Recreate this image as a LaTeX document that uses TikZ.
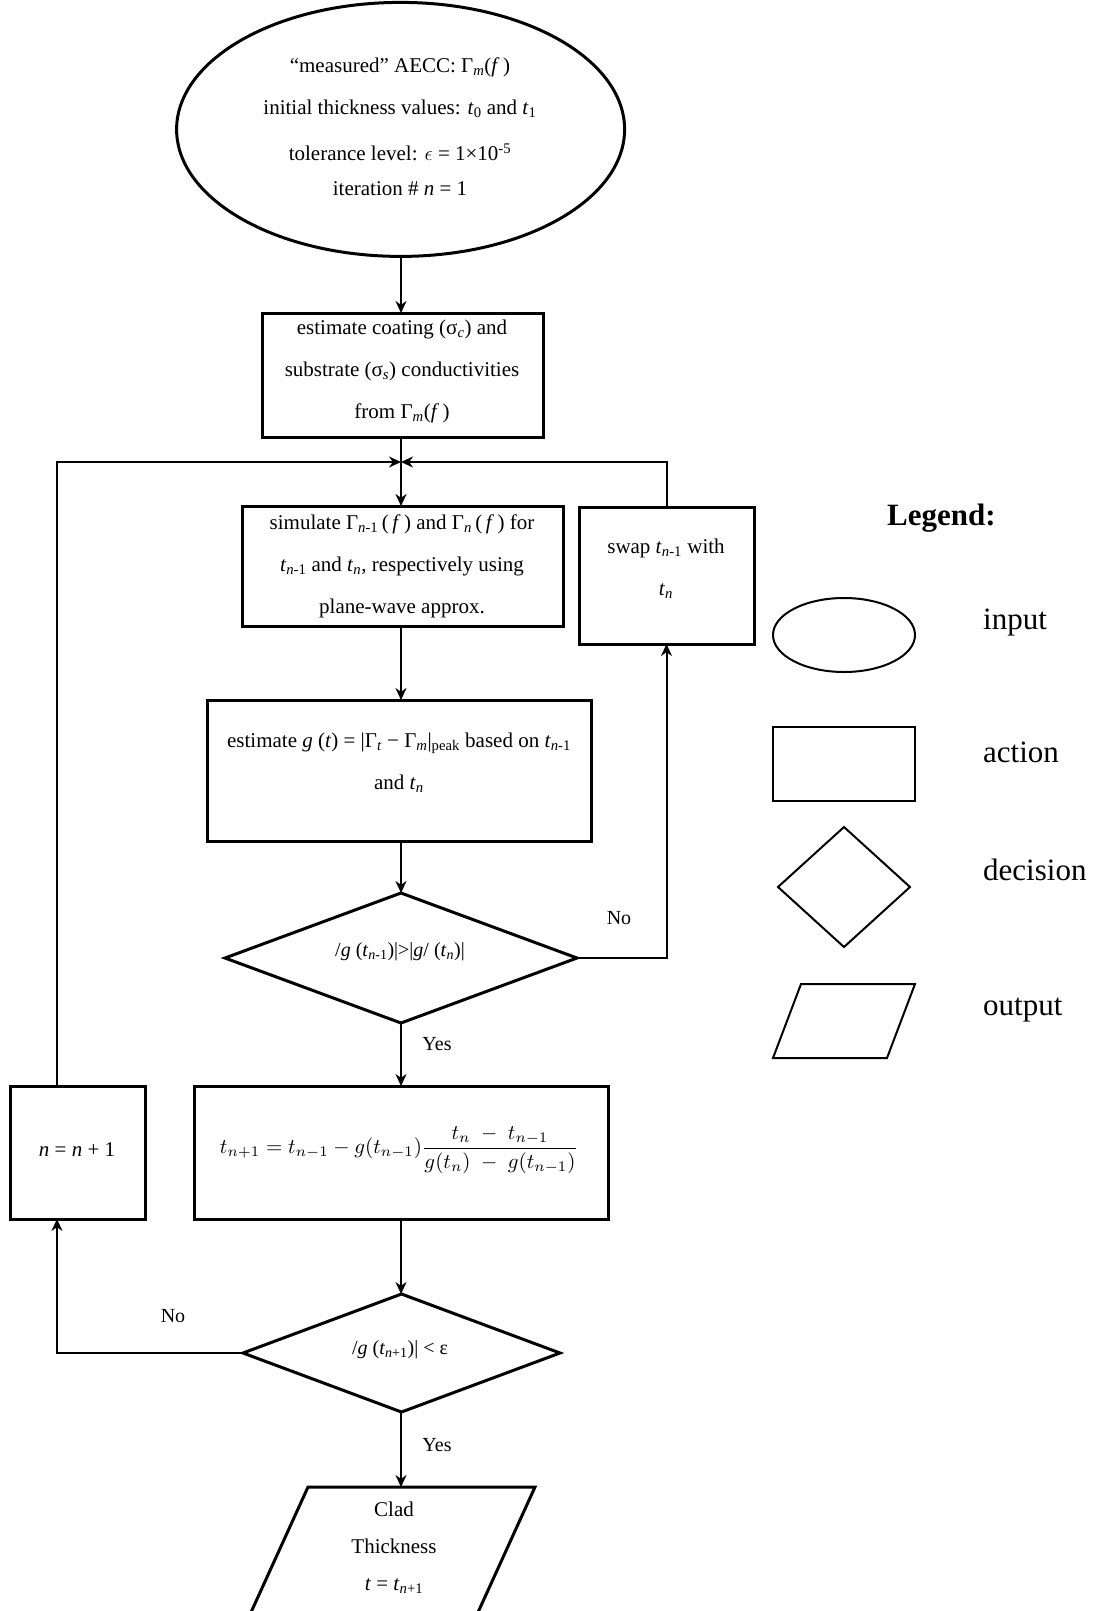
\documentclass[tikz,border=0pt]{standalone}
\usepackage{fontspec}
\setmainfont{Liberation Serif}
\usepackage{graphicx}
\usetikzlibrary{shapes.geometric,arrows.meta}
\newcommand\ti[1]{\textit{#1}}
\newcommand\sbs[1]{\textsubscript{#1}}
\newcommand\sps[1]{\textsuperscript{#1}}
\begin{document}
\begin{tikzpicture}[x=1pt,y=-1pt,
  shp/.style={draw,line width=3pt,inner sep=0pt,outer sep=0pt},
  lshp/.style={draw,line width=2pt,inner sep=0pt,outer sep=0pt},
  txt/.style={align=center,font=\fontsize{21}{42}\selectfont,inner sep=0pt},
  dtxt/.style={align=center,font=\fontsize{20}{24}\selectfont,inner sep=0pt},
  lbl/.style={font=\fontsize{20}{24}\selectfont,inner sep=0pt},
  leg/.style={font=\fontsize{31}{36}\selectfont,anchor=base west,inner sep=0pt},
  conn/.style={line width=2pt,-{Stealth[length=12pt,width=11pt]}},
  plainline/.style={line width=2pt}]
\useasboundingbox (0,0) rectangle (1097,1611);
\clip (0,0) rectangle (1097,1611);

% main shapes
\node[shp,ellipse,minimum width=448pt,minimum height=254pt] (inp) at (400.6,129.4) {};
\node[txt] (tinp) at (400,127) {“measured” AECC: Γ\sbs{\ti{m}}(\ti{f}\,)\\
initial thickness values: \ti{t}\sbs{0} and \ti{t}\sbs{1}\\[4pt]
tolerance level: $\epsilon$ = 1×10\sps{-5}\\[-7pt]
iteration \# \ti{n} = 1};

\node[shp,rectangle,minimum width=281pt,minimum height=124pt] (b1) at (402.5,375) {};
\node[txt] (tb1) at (402,371) {estimate coating (σ\sbs{\ti{c}}) and\\
substrate (σ\sbs{\ti{s}}) conductivities\\
from Γ\sbs{\ti{m}}(\ti{f}\,)};

\node[shp,rectangle,minimum width=321pt,minimum height=120pt] (b2) at (402.5,566) {};
\node[txt] (tb2) at (402,566) {simulate Γ\sbs{\ti{n}-1}\,(\,\ti{f}\,) and Γ\sbs{\ti{n}}\,(\,\ti{f}\,) for\\
\ti{t}\sbs{\ti{n}-1} and \ti{t}\sbs{\ti{n}}, respectively using\\
plane-wave approx.};

\node[shp,rectangle,minimum width=175pt,minimum height=137pt] (sw) at (666.5,575.5) {};
\node[txt] (tsw) at (666,569) {swap \ti{t}\sbs{\ti{n}-1} with\\ \ti{t}\sbs{\ti{n}}};

\node[shp,rectangle,minimum width=384pt,minimum height=141pt] (b3) at (399,770.5) {};
\node[txt] (tb3) at (399,763) {estimate \ti{g} (\ti{t}) = |Γ\sbs{\ti{t}} − Γ\sbs{\ti{m}}|\sbs{peak} based on \ti{t}\sbs{\ti{n}-1}\\
and \ti{t}\sbs{\ti{n}}};

\node[shp,diamond,minimum width=352pt,minimum height=130pt] (d1) at (401,958) {};
\node[dtxt] (td1) at (400,952) {/\ti{g} (\ti{t}\sbs{\ti{n}-1})|>|\ti{g}/ (\ti{t}\sbs{\ti{n}})|};

\node[shp,rectangle,minimum width=414pt,minimum height=133pt] (b4) at (401,1152.5) {};
\node[inner sep=0pt] (tb4) at (399,1150) {\resizebox{358pt}{!}{$\displaystyle t_{n+1}=t_{n-1}-g(t_{n-1})\frac{t_n\;-\;t_{n-1}}{g(t_n)\;-\;g(t_{n-1})}$}};

\node[shp,rectangle,minimum width=135pt,minimum height=133pt] (nb) at (77.5,1152.5) {};
\node[txt] (tnb) at (77,1150) {\ti{n} = \ti{n} + 1};

\node[shp,diamond,minimum width=317pt,minimum height=118pt] (d2) at (401.5,1353) {};
\node[dtxt] (td2) at (400,1350) {/\ti{g} (\ti{t}\sbs{\ti{n}+1})| < ε};

\draw[line width=3pt] (308,1487) -- (535,1487) -- (474.5,1620) -- (247.5,1620) -- cycle;
\coordinate (outtop) at (421.5,1487);
\node[txt,font=\fontsize{21}{37}\selectfont] (tout) at (394,1548) {Clad\\ Thickness\\ \ti{t} = \ti{t}\sbs{\ti{n}+1}};

% junction coordinates
\coordinate (J) at (401,462);
\coordinate (Lx) at (57,462);

% connectors
\draw[conn] (inp.south -| J) -- (b1.north -| J);
\draw[conn] (b1.south -| J) -- (b2.north -| J);
\draw[conn] (Lx |- nb.north) -- (Lx) -- (J);
\draw[conn] (sw.north) -- (sw.north |- J) -- (J);
\draw[conn] (b2.south -| J) -- (b3.north -| J);
\draw[conn] (b3.south -| J) -- (d1.north -| J);
\draw[conn] (d1.east) -- (d1.east -| sw.south) -- (sw.south);
\draw[conn] (d1.south -| J) -- (b4.north -| J);
\draw[conn] (b4.south -| J) -- (d2.north -| J);
\draw[conn] (d2.west) -- (d2.west -| Lx) -- (Lx |- nb.south);
\draw[conn] (d2.south -| J) -- (outtop -| J);

% labels
\node[lbl] (no1) at (619,918) {No};
\node[lbl] (yes1) at (437,1044) {Yes};
\node[lbl] (no2) at (173,1316) {No};
\node[lbl] (yes2) at (437,1445) {Yes};

% legend
\node[leg] (tlegend) at (887,525) {\textbf{Legend:}};
\node[lshp,ellipse,minimum width=142pt,minimum height=74pt] (lin) at (844,635) {};
\node[lshp,rectangle,minimum width=142pt,minimum height=74pt] (lac) at (844,764) {};
\node[lshp,diamond,minimum width=132pt,minimum height=120pt] (lde) at (844,887) {};
\draw[line width=2pt] (801,984) -- (915,984) -- (887,1058) -- (773,1058) -- cycle;
\node[leg] (tin) at (983,629) {input};
\node[leg] (tac) at (983,762) {action};
\node[leg] (tde) at (983,880) {decision};
\node[leg] (tou) at (983,1015) {output};
\end{tikzpicture}
\end{document}
